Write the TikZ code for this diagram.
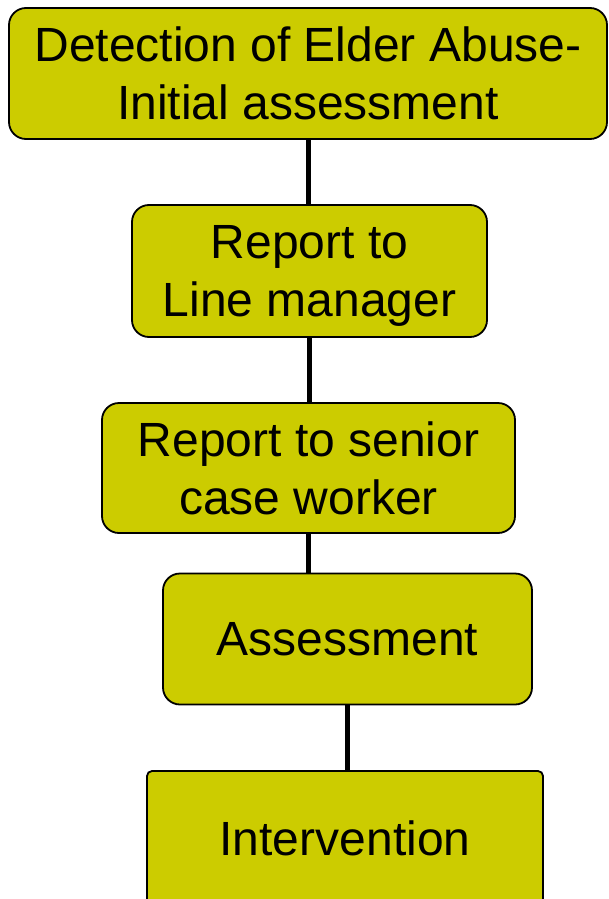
\documentclass[tikz,border=0pt]{standalone}
\usepackage{fontspec}
\setmainfont{Liberation Sans}
\usepackage{tikz}
\definecolor{stagefill}{RGB}{204,204,0}

\begin{document}
\begin{tikzpicture}[x=1pt,y=-1pt,
    stage/.style={draw=black, line width=1.8pt, fill=stagefill,
      rounded corners=17pt, align=center, inner sep=0pt, text depth=0pt,
      font=\fontsize{48}{58}\selectfont},
    link/.style={line width=5pt}]
    \useasboundingbox (0,0) rectangle (609,899);
    % the five stages, top to bottom
    \node[stage, minimum width=598pt, minimum height=131pt] (detect) at (308,73.5)
      {Detection of Elder Abuse-\\Initial assessment};
    \node[stage, minimum width=355pt, minimum height=132pt] (linemgr) at (309.5,271)
      {Report to\\Line manager};
    \node[stage, minimum width=413pt, minimum height=130pt] (senior) at (308.5,468)
      {Report to senior\\case worker};
    \node[stage, minimum width=369pt, minimum height=131pt] (assess) at (347.5,639)
      {Assessment};
    \node[stage, rounded corners=5pt, minimum width=396pt, minimum height=134pt]
      (interv) at (345,838) {Intervention};
    % links between the stages
    \draw[link] (detect.south) -- (detect.south |- linemgr.north);
    \draw[link] (linemgr.south) -- (linemgr.south |- senior.north);
    \draw[link] (senior.south) -- (senior.south |- assess.north);
    \draw[link] (assess.south) -- (assess.south |- interv.north);
\end{tikzpicture}
\end{document}
